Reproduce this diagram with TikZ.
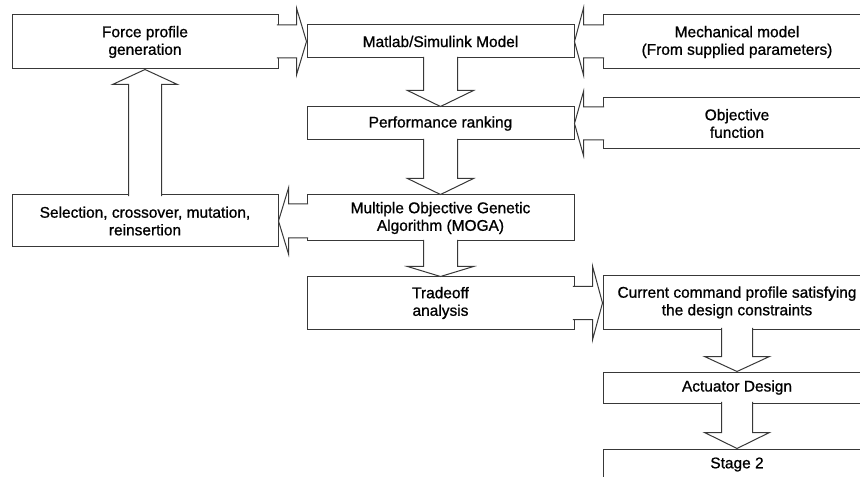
\documentclass[tikz,border=0pt]{standalone}
\usepackage{fontspec}
\setmainfont{Liberation Sans}
\newfontfamily\diagfont{Liberation Sans}[FakeBold=0.9]
\usetikzlibrary{calc}
\newcommand\blockarrow[5]{% #1 start, #2 apex, #3 shaft half width, #4 head half width, #5 head length (px)
  \pgfmathsetlengthmacro\bw{#3*0.75pt}%
  \pgfmathsetlengthmacro\bh{#4*0.75pt}%
  \pgfmathsetlengthmacro\bl{#5*0.75pt}%
  \coordinate (ba-s) at ($(#1)!-1.2pt!(#2)$);
  \coordinate (ba-h) at ($(#2)!\bl!(#1)$);
  \filldraw[arrowline] ($(ba-s)!\bw!90:(#2)$) -- ($(ba-h)!\bw!90:(#2)$)
    -- ($(ba-h)!\bh!90:(#2)$) -- (#2) -- ($(ba-h)!\bh!-90:(#2)$)
    -- ($(ba-h)!\bw!-90:(#2)$) -- ($(ba-s)!\bw!-90:(#2)$);
}
\newcommand\bx[6]{% name, x1, y1, x2, y2 (px), text
  \node[box, minimum width={(#4-#2)*0.75pt}, minimum height={(#5-#3)*0.75pt}]
    (#1) at ({(#2+#4)/2},{(#3+#5)/2}) {#6};
}
\begin{document}
\begin{tikzpicture}[x=0.75pt,y=-0.75pt,
  box/.style={draw=black!78, line width=0.75pt, fill=white, inner sep=0pt,
    align=center, font=\diagfont\fontsize{11.6}{13.2}\selectfont, text=black},
  arrowline/.style={draw=black!78, fill=white, line width=0.75pt, line join=miter}]
\useasboundingbox (0,0) rectangle (860,477);
\clip (0,0) rectangle (860,477);
\fill[white] (0,0) rectangle (860,477);
% boxes
\bx{force}{12}{15}{278}{69}{Force profile\\generation}
\bx{matlab}{307}{25}{574}{58}{Matlab/Simulink Model}
\bx{mech}{603}{15}{871}{69}{Mechanical model\\(From supplied parameters)}
\bx{perf}{307}{107}{574}{140}{Performance ranking}
\bx{obj}{603}{98}{871}{149}{Objective\\function}
\bx{sel}{12}{195}{278}{247}{Selection, crossover, mutation,\\reinsertion}
\bx{moga}{307}{195}{574}{241}{Multiple Objective Genetic\\Algorithm (MOGA)}
\bx{trade}{307}{277}{574}{329}{Tradeoff\\analysis}
\bx{curr}{603}{276}{871}{329}{Current command profile satisfying\\the design constraints}
\bx{act}{603}{372}{871}{403}{Actuator Design}
\bx{stage}{603}{449}{871}{480}{Stage 2}
% connector anchors
\coordinate (a1) at (force.east |- matlab.west);
\coordinate (a2) at (mech.west |- matlab.east);
\coordinate (a4) at (obj.west |- perf.east);
\coordinate (a6) at (moga.west |- sel.east);
\coordinate (a9) at (curr.west |- trade.east);
% block arrows
\blockarrow{a1}{matlab.west}{16.5}{33.5}{10}
\blockarrow{a2}{matlab.east}{16.5}{33.5}{9}
\blockarrow{matlab.south}{perf.north}{17}{33}{16}
\blockarrow{a4}{perf.east}{16.5}{32}{9}
\blockarrow{perf.south}{moga.north}{17}{33}{16}
\blockarrow{a6}{sel.east}{17}{33}{10}
\blockarrow{sel.north}{force.south}{16.5}{32.5}{15}
\blockarrow{moga.south}{trade.north}{17}{33}{10}
\blockarrow{trade.east}{a9}{16.5}{37}{10}
\blockarrow{curr.south}{act.north}{15.5}{32.5}{15}
\blockarrow{act.south}{stage.north}{15.5}{32.5}{16}
\end{tikzpicture}
\end{document}
